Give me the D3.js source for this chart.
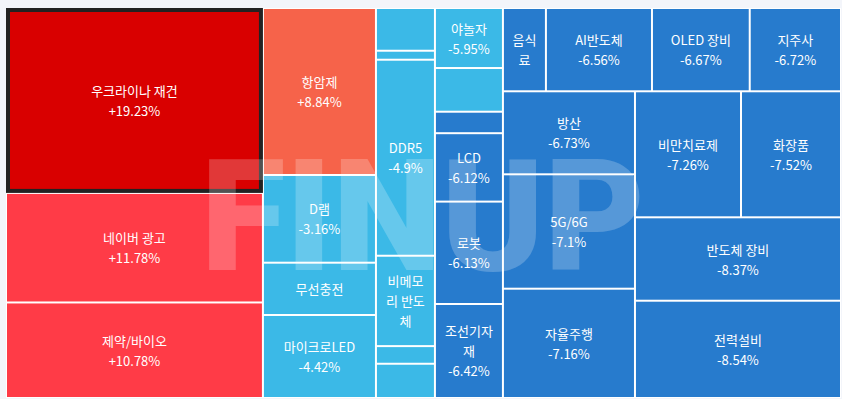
<!DOCTYPE html>
<html>
<head>
<meta charset="utf-8">
<script src="https://cdn.jsdelivr.net/npm/d3@7"></script>
<style>
  html, body { margin: 0; padding: 0; background: #f3f5fa; }
  svg { display: block; }
  .lbl { font-family: "Noto Sans CJK KR", "Noto Sans", sans-serif; font-size: 13px; fill: #fff; }
</style>
</head>
<body>
<svg id="chart" width="842" height="399"></svg>
<script>
// theme names, in the order the treemap lays them out (empty = label not shown)
const names = ["우크라이나 재건", "네이버 광고", "제약/바이오", "항암제", "D램", "무선충전", "마이크로LED",
               "", "", "DDR5", "비메모리 반도체", "", "",
               "야놀자", "", "", "LCD", "로봇", "조선기자재",
               "음식료", "AI반도체", "OLED 장비", "지주사",
               "방산", "5G/6G", "자율주행", "비만치료제", "화장품", "반도체 장비", "전력설비"];

// daily change in %
const changes = [19.23, 11.78, 10.78, 8.84, -3.16, -3.9, -4.42,
                 -4.6, -4.8, -4.9, -5.2, -5.5, -5.8,
                 -5.95, -5.98, -6.05, -6.12, -6.13, -6.42,
                 -6.5, -6.56, -6.67, -6.72,
                 -6.73, -7.1, -7.16, -7.26, -7.52, -8.37, -8.54];

// box size weights
const sizes = [47500, 28140, 24540, 18870, 9910, 5910, 9380,
               2520, 530, 11560, 5330, 1040, 2020,
               4080, 2970, 1460, 4650, 6960, 6390,
               3580, 8830, 8140, 7600,
               10960, 15100, 14430, 13360, 12600, 17180, 20040];

const highlighted = "우크라이나 재건";
const watermark = "FINUP";

const W = 842, H = 399;
const margin = {left: 6, top: 8, right: 1, bottom: 1};
const width = W - margin.left - margin.right;
const height = H - margin.top - margin.bottom;

const color = d3.scaleThreshold()
  .domain([-6, 0, 10, 15])
  .range(["#277bcd", "#3bb9e7", "#f6634a", "#ff3b47", "#d90000"]);

const fmt = v => (v > 0 ? "+" : "") + v + "%";

const root = d3.hierarchy({children: names.map((n, i) => ({name: n, change: changes[i], size: sizes[i]}))})
  .sum(d => d.size || 0);

d3.treemap()
  .tile(d3.treemapSquarify)
  .size([width, height])(root);

const svg = d3.select("#chart");
const g = svg.append("g")
  .attr("transform", "translate(" + margin.left + "," + margin.top + ")");

g.append("rect")
  .attr("width", width)
  .attr("height", height)
  .attr("fill", "#fff");

const leaves = root.leaves();

// Cells, 1px inset so neighbours sit 2px apart
g.selectAll("rect.cell")
  .data(leaves)
  .enter()
  .append("rect")
  .attr("class", "cell")
  .attr("x", d => d.x0 + 1)
  .attr("y", d => d.y0 + 1)
  .attr("width", d => d.x1 - d.x0 - 2)
  .attr("height", d => d.y1 - d.y0 - 2)
  .attr("fill", d => color(d.data.change));

// Selected theme gets a dark frame
g.selectAll("rect.sel")
  .data(leaves.filter(d => d.data.name === highlighted))
  .enter()
  .append("rect")
  .attr("class", "sel")
  .attr("x", d => d.x0 + 2)
  .attr("y", d => d.y0 + 2)
  .attr("width", d => d.x1 - d.x0 - 4)
  .attr("height", d => d.y1 - d.y0 - 4)
  .attr("fill", "none")
  .attr("stroke", "#222")
  .attr("stroke-width", 4);

// Labels: wrap by character, drop lines that don't fit
const measure = g.append("text").attr("class", "lbl").attr("visibility", "hidden");
function textWidth(s) {
  measure.text(s);
  return measure.node().getComputedTextLength();
}
function wrap(name, maxW) {
  const lines = [];
  let cur = "";
  for (const ch of name) {
    const t = cur + ch;
    if (cur.trim() && textWidth(t.trim()) > maxW) {
      lines.push(cur.trim());
      cur = ch;
    } else {
      cur = t;
    }
  }
  if (cur.trim()) lines.push(cur.trim());
  return lines;
}

const lineH = 20;
leaves.filter(d => d.data.name).forEach(d => {
  const wf = d.x1 - d.x0 - 2, hf = d.y1 - d.y0 - 2;
  const maxW = wf - 12;
  let lines = wrap(d.data.name, maxW);
  const pct = fmt(d.data.change);
  if (textWidth(pct) <= maxW) lines.push(pct);
  const maxLines = Math.floor((hf - 15) / lineH);
  lines = lines.slice(0, Math.max(maxLines, 0));
  const cx = (d.x0 + d.x1) / 2, cy = (d.y0 + d.y1) / 2;
  g.selectAll(null)
    .data(lines)
    .enter()
    .append("text")
    .attr("class", "lbl")
    .attr("x", cx)
    .attr("y", (l, i) => cy + (i - (lines.length - 1) / 2) * lineH)
    .attr("text-anchor", "middle")
    .attr("dominant-baseline", "central")
    .text(l => l);
});
measure.remove();

// Watermark
svg.append("text")
  .attr("x", W / 2 + 2)
  .attr("y", 270)
  .attr("text-anchor", "middle")
  .style("font-family", "Roboto, 'Liberation Sans', sans-serif")
  .style("font-weight", 900)
  .style("font-size", "155px")
  .attr("fill", "#fff")
  .attr("fill-opacity", 0.22)
  .text(watermark);
</script>
</body>
</html>
